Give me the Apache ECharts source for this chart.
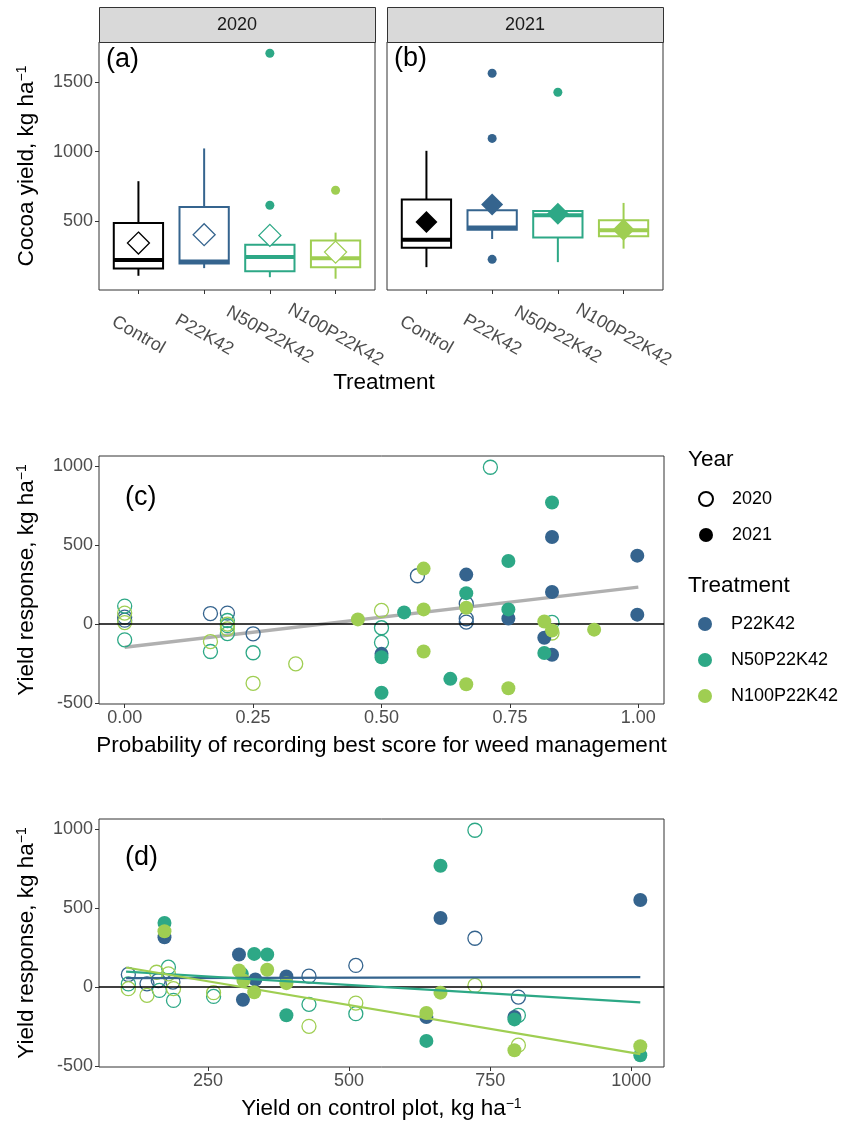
<!DOCTYPE html>
<html><head><meta charset="utf-8">
<script src="https://cdn.jsdelivr.net/npm/echarts@6/dist/echarts.min.js"></script>
<style>html,body{margin:0;padding:0;background:#fff}#c{width:845px;height:1131px}</style>
</head><body><div id="c"></div><script>
// ---------- data ----------
const treatments = ['Control', 'P22K42', 'N50P22K42', 'N100P22K42'];
const treatColors = ['#000000', '#35648E', '#2DA886', '#9FCE52'];
// boxplot stats: [min, Q1, median, Q3, max]
const box2020 = [[109, 162, 222, 488, 788], [164, 198, 212, 603, 1023], [99, 142, 243, 332, 400], [88, 171, 234, 363, 419]];
const box2021 = [[171, 311, 368, 656, 1006], [373, 440, 455, 579, 640], [207, 383, 543, 574, 600], [304, 392, 435, 507, 632]];
const mean2020 = [344, 404, 399, 279];
const mean2021 = [495, 620, 555, 440];
// [treatment index, value]
const outliers2020 = [[2, 1706], [2, 615], [3, 723]];
const outliers2021 = [[1, 1563], [1, 1095], [1, 227], [2, 1426]];
const yieldTicks = [500, 1000, 1500];

// panel (c): [probability best weed score, yield response]
const weedP22_2020 = [[0, 44], [0, 25], [0.167, 67], [0.2, 70], [0.25, -61], [0.57, 306], [0.665, 129], [0.665, 34], [0.665, 13]];
const weedP22_2021 = [[0.5, -188], [0.665, 313], [0.747, 36], [0.817, -86], [0.832, 551], [0.832, 203], [0.832, -194], [0.998, 433], [0.998, 60]];
const weedN50_2020 = [[0, 114], [0, -99], [0.167, -173], [0.2, 23], [0.2, -10], [0.2, -60], [0.25, -181], [0.5, -23], [0.5, -116], [0.832, 11], [0.712, 992]];
const weedN50_2021 = [[0.5, -209], [0.5, -434], [0.544, 74], [0.634, -346], [0.665, 196], [0.747, 399], [0.747, 93], [0.817, -183], [0.832, 769]];
const weedN100_2020 = [[0, 70], [0, 10], [0.167, -110], [0.2, 0], [0.2, -30], [0.25, -374], [0.333, -251], [0.5, 87], [0.832, -56]];
const weedN100_2021 = [[0.454, 30], [0.582, 351], [0.582, 93], [0.582, -173], [0.665, 104], [0.665, -380], [0.747, -405], [0.817, 17], [0.832, -40], [0.914, -35]];
const weedFit = [[0, -146], [1, 234]];
const weedTicks = [0, 0.25, 0.5, 0.75, 1];

// panel (d): [yield on control plot, yield response]
const ctrlP22_2020 = [[109, 80], [142, 21], [162, 42], [188, 32], [429, 69], [512, 137], [723, 309], [800, -63]];
const ctrlP22_2021 = [[173, 315], [305, 206], [312, -80], [334, 48], [389, 67], [637, -189], [662, 437], [793, -189], [1016, 551]];
const ctrlN50_2020 = [[109, 20], [164, -21], [180, 126], [189, -84], [260, -59], [429, -109], [512, -168], [723, 992], [800, -178]];
const ctrlN50_2021 = [[173, 406], [310, 84], [332, 210], [355, 206], [389, -178], [637, -340], [662, 767], [793, -204], [1016, -431]];
const ctrlN100_2020 = [[109, -10], [142, -52], [159, 94], [180, 84], [189, -10], [260, -35], [429, -248], [512, -101], [723, 11], [800, -367]];
const ctrlN100_2021 = [[173, 353], [305, 105], [313, 42], [332, -32], [355, 110], [389, 25], [637, -164], [662, -35], [793, -399], [1016, -374]];
const ctrlFitP22 = [[105, 57], [1016, 63]];
const ctrlFitN50 = [[105, 98], [1016, -96]];
const ctrlFitN100 = [[105, 124], [1016, -424]];
const ctrlTicks = [250, 500, 750, 1000];
const responseTicks = [-500, 0, 500, 1000];

// ---------- styling ----------
const FONT = '"Liberation Sans", Arial, Helvetica, sans-serif';
const TICK_COLOR = '#4D4D4D';
const BORDER = '#333333';
const TICK_FS = 18, TITLE_FS = 22.5;
const C_P22 = treatColors[1], C_N50 = treatColors[2], C_N100 = treatColors[3];
// discrete positions 1..n on a value axis (ggplot-style 0.6 expansion)
const treatPos = treatments.map((t, i) => i + 1);

const chart = echarts.init(document.getElementById('c'), null, {renderer: 'canvas'});

function boxRender(params, api) {
  const p = api.value(0);
  const c = treatColors[p - 1];
  const unit = api.size([1, 0])[0];
  const w = unit * 0.75;
  const x = api.coord([p, api.value(1)])[0];
  const yMin = api.coord([p, api.value(1)])[1];
  const yQ1 = api.coord([p, api.value(2)])[1];
  const yMed = api.coord([p, api.value(3)])[1];
  const yQ3 = api.coord([p, api.value(4)])[1];
  const yMax = api.coord([p, api.value(5)])[1];
  return {
    type: 'group',
    children: [
      {type: 'line', shape: {x1: x, y1: yMax, x2: x, y2: yQ3}, style: {stroke: c, lineWidth: 2}},
      {type: 'line', shape: {x1: x, y1: yQ1, x2: x, y2: yMin}, style: {stroke: c, lineWidth: 2}},
      {type: 'rect', shape: {x: x - w / 2, y: yQ3, width: w, height: yQ1 - yQ3}, style: {fill: '#fff', stroke: c, lineWidth: 2}},
      {type: 'line', shape: {x1: x - w / 2, y1: yMed, x2: x + w / 2, y2: yMed}, style: {stroke: c, lineWidth: 4}}
    ]
  };
}

function treatAxis(gi) {
  return {
    gridIndex: gi, type: 'value', min: 0.4, max: treatments.length + 0.6,
    axisLine: {show: false, onZero: false},
    axisTick: {customValues: treatPos, length: 4, lineStyle: {color: BORDER}},
    axisLabel: {customValues: treatPos, formatter: v => treatments[Math.round(v) - 1],
      rotate: -30, align: 'center', verticalAlign: 'middle', margin: 45,
      fontSize: TICK_FS, color: TICK_COLOR, fontFamily: FONT},
    splitLine: {show: false}
  };
}

const nameStyle = {fontSize: TITLE_FS, color: '#000', fontFamily: FONT,
  rich: {s: {fontSize: 14, verticalAlign: 'top', color: '#000', fontFamily: FONT}}};

function valAxisX(gi, min, max, ticks, fmt, name) {
  return {
    gridIndex: gi, type: 'value', min: min, max: max,
    axisLine: {show: false, onZero: false},
    axisTick: {customValues: ticks, length: 4, lineStyle: {color: BORDER}},
    axisLabel: {customValues: ticks, formatter: fmt, margin: 5, fontSize: TICK_FS, color: TICK_COLOR, fontFamily: FONT},
    splitLine: {show: false},
    name: name, nameLocation: 'middle', nameGap: 30, nameTextStyle: nameStyle
  };
}

function valAxisY(gi, min, max, ticks, name) {
  return {
    gridIndex: gi, type: 'value', min: min, max: max,
    axisLine: {show: false, onZero: false},
    axisTick: {customValues: ticks, length: 4, lineStyle: {color: BORDER}},
    axisLabel: {customValues: ticks, formatter: v => String(v), margin: 6, fontSize: TICK_FS, color: TICK_COLOR, fontFamily: FONT},
    splitLine: {show: false},
    name: name, nameLocation: 'middle', nameGap: 61, nameRotate: 90, nameTextStyle: nameStyle
  };
}

function pts(data, color, filled, gi) {
  return {
    type: 'scatter', xAxisIndex: gi, yAxisIndex: gi, data: data, symbolSize: 14,
    itemStyle: filled ? {color: color, opacity: 1} : {color: 'rgba(0,0,0,0)', borderColor: color, borderWidth: 1.3, opacity: 1},
    z: filled ? 5 : 4, silent: true
  };
}
function fit(data, color, gi, width) {
  return {
    type: 'line', xAxisIndex: gi, yAxisIndex: gi, data: data, symbol: 'none',
    lineStyle: {color: color, width: width}, z: 3, silent: true
  };
}
function zeroLine(gi) {
  return {
    type: 'line', xAxisIndex: gi, yAxisIndex: gi, data: [], silent: true, z: 2,
    markLine: {silent: true, symbol: 'none', label: {show: false},
      lineStyle: {color: '#000', width: 1.6, type: 'solid'}, data: [{yAxis: 0}]}
  };
}
const legendText = {fontSize: 18, color: '#000', fontFamily: FONT, lineHeight: 20, padding: [0, 0, 0, 14]};

const option = {
  backgroundColor: '#ffffff',
  animation: false,
  textStyle: {fontFamily: FONT},
  grid: [
    {left: 99, top: 42, width: 276, height: 248, show: true, borderColor: BORDER, borderWidth: 1, backgroundColor: 'transparent'},
    {left: 387, top: 42, width: 276, height: 248, show: true, borderColor: BORDER, borderWidth: 1, backgroundColor: 'transparent'},
    {left: 99, top: 456, width: 565, height: 248, show: true, borderColor: BORDER, borderWidth: 1, backgroundColor: 'transparent'},
    {left: 99, top: 819, width: 565, height: 248, show: true, borderColor: BORDER, borderWidth: 1, backgroundColor: 'transparent'}
  ],
  xAxis: [
    treatAxis(0), treatAxis(1),
    valAxisX(2, -0.05, 1.05, weedTicks, v => v.toFixed(2), 'Probability of recording best score for weed management'),
    valAxisX(3, 57, 1058, ctrlTicks, v => String(v), 'Yield on control plot, kg ha{s|−1}')
  ],
  yAxis: [
    valAxisY(0, 7, 1787, yieldTicks, 'Cocoa yield, kg ha{s|−1}'),
    {gridIndex: 1, type: 'value', min: 7, max: 1787, axisLine: {show: false, onZero: false}, axisTick: {show: false},
      axisLabel: {show: false}, splitLine: {show: false}},
    valAxisY(2, -505, 1063, responseTicks, 'Yield response, kg ha{s|−1}'),
    valAxisY(3, -505, 1063, responseTicks, 'Yield response, kg ha{s|−1}')
  ],
  legend: [
    {data: ['2020', '2021'], orient: 'vertical', left: 698, top: 489, padding: 0, icon: 'circle',
      itemWidth: 14, itemHeight: 14, itemGap: 16, selectedMode: false, textStyle: legendText},
    {data: treatments.slice(1), orient: 'vertical', left: 698, top: 614, padding: 0, icon: 'circle',
      itemWidth: 14, itemHeight: 14, itemGap: 16, selectedMode: false, textStyle: legendText}
  ],
  graphic: [
    {type: 'rect', left: 99, top: 7, shape: {width: 276, height: 35}, style: {fill: '#D9D9D9', stroke: BORDER, lineWidth: 1}},
    {type: 'rect', left: 387, top: 7, shape: {width: 276, height: 35}, style: {fill: '#D9D9D9', stroke: BORDER, lineWidth: 1}},
    {type: 'text', x: 237, y: 25, style: {text: '2020', font: '18px ' + FONT, fill: '#1A1A1A', textAlign: 'center', textVerticalAlign: 'middle'}},
    {type: 'text', x: 525, y: 25, style: {text: '2021', font: '18px ' + FONT, fill: '#1A1A1A', textAlign: 'center', textVerticalAlign: 'middle'}},
    {type: 'text', x: 106, y: 60, style: {text: '(a)', font: '27px ' + FONT, fill: '#000', textVerticalAlign: 'middle'}},
    {type: 'text', x: 394, y: 59, style: {text: '(b)', font: '27px ' + FONT, fill: '#000', textVerticalAlign: 'middle'}},
    {type: 'text', x: 125, y: 498, style: {text: '(c)', font: '27px ' + FONT, fill: '#000', textVerticalAlign: 'middle'}},
    {type: 'text', x: 125, y: 858, style: {text: '(d)', font: '27px ' + FONT, fill: '#000', textVerticalAlign: 'middle'}},
    {type: 'text', x: 384, y: 383, style: {text: 'Treatment', font: TITLE_FS + 'px ' + FONT, fill: '#000', textAlign: 'center', textVerticalAlign: 'middle'}},
    {type: 'text', x: 688, y: 460, style: {text: 'Year', font: TITLE_FS + 'px ' + FONT, fill: '#000', textVerticalAlign: 'middle'}},
    {type: 'text', x: 688, y: 586, style: {text: 'Treatment', font: TITLE_FS + 'px ' + FONT, fill: '#000', textVerticalAlign: 'middle'}}
  ],
  series: [
    // (a) and (b) boxplots
    {type: 'custom', xAxisIndex: 0, yAxisIndex: 0, renderItem: boxRender, silent: true, z: 2,
      encode: {x: 0, y: [1, 2, 3, 4, 5]}, data: box2020.map((b, i) => [treatPos[i]].concat(b))},
    {type: 'custom', xAxisIndex: 1, yAxisIndex: 1, renderItem: boxRender, silent: true, z: 2,
      encode: {x: 0, y: [1, 2, 3, 4, 5]}, data: box2021.map((b, i) => [treatPos[i]].concat(b))},
    {type: 'scatter', xAxisIndex: 0, yAxisIndex: 0, symbolSize: 9, silent: true, z: 3,
      data: outliers2020.map(o => ({value: [treatPos[o[0]], o[1]], itemStyle: {color: treatColors[o[0]], opacity: 1}}))},
    {type: 'scatter', xAxisIndex: 1, yAxisIndex: 1, symbolSize: 9, silent: true, z: 3,
      data: outliers2021.map(o => ({value: [treatPos[o[0]], o[1]], itemStyle: {color: treatColors[o[0]], opacity: 1}}))},
    {type: 'scatter', xAxisIndex: 0, yAxisIndex: 0, symbol: 'diamond', symbolSize: 22, silent: true, z: 4,
      data: mean2020.map((m, i) => ({value: [treatPos[i], m], itemStyle: {color: '#ffffff', borderColor: treatColors[i], borderWidth: 1.3, opacity: 1}}))},
    {type: 'scatter', xAxisIndex: 1, yAxisIndex: 1, symbol: 'diamond', symbolSize: 22, silent: true, z: 4,
      data: mean2021.map((m, i) => ({value: [treatPos[i], m], itemStyle: {color: treatColors[i], opacity: 1}}))},

    // (c)
    zeroLine(2),
    fit(weedFit, '#B0B0B0', 2, 3.5),
    pts(weedP22_2020, C_P22, false, 2), pts(weedN50_2020, C_N50, false, 2), pts(weedN100_2020, C_N100, false, 2),
    pts(weedP22_2021, C_P22, true, 2), pts(weedN50_2021, C_N50, true, 2), pts(weedN100_2021, C_N100, true, 2),

    // (d)
    zeroLine(3),
    pts(ctrlP22_2020, C_P22, false, 3), pts(ctrlN50_2020, C_N50, false, 3), pts(ctrlN100_2020, C_N100, false, 3),
    pts(ctrlP22_2021, C_P22, true, 3), pts(ctrlN50_2021, C_N50, true, 3), pts(ctrlN100_2021, C_N100, true, 3),
    Object.assign(fit(ctrlFitP22, C_P22, 3, 2.2), {z: 6}),
    Object.assign(fit(ctrlFitN50, C_N50, 3, 2.2), {z: 6}),
    Object.assign(fit(ctrlFitN100, C_N100, 3, 2.2), {z: 6}),

    // legend keys
    {type: 'scatter', name: '2020', xAxisIndex: 2, yAxisIndex: 2, data: [], itemStyle: {color: '#ffffff', borderColor: '#000', borderWidth: 1, opacity: 1}},
    {type: 'scatter', name: '2021', xAxisIndex: 2, yAxisIndex: 2, data: [], itemStyle: {color: '#000', opacity: 1}},
    {type: 'scatter', name: treatments[1], xAxisIndex: 2, yAxisIndex: 2, data: [], itemStyle: {color: C_P22, opacity: 1}},
    {type: 'scatter', name: treatments[2], xAxisIndex: 2, yAxisIndex: 2, data: [], itemStyle: {color: C_N50, opacity: 1}},
    {type: 'scatter', name: treatments[3], xAxisIndex: 2, yAxisIndex: 2, data: [], itemStyle: {color: C_N100, opacity: 1}}
  ]
};
chart.setOption(option);
</script></body></html>
